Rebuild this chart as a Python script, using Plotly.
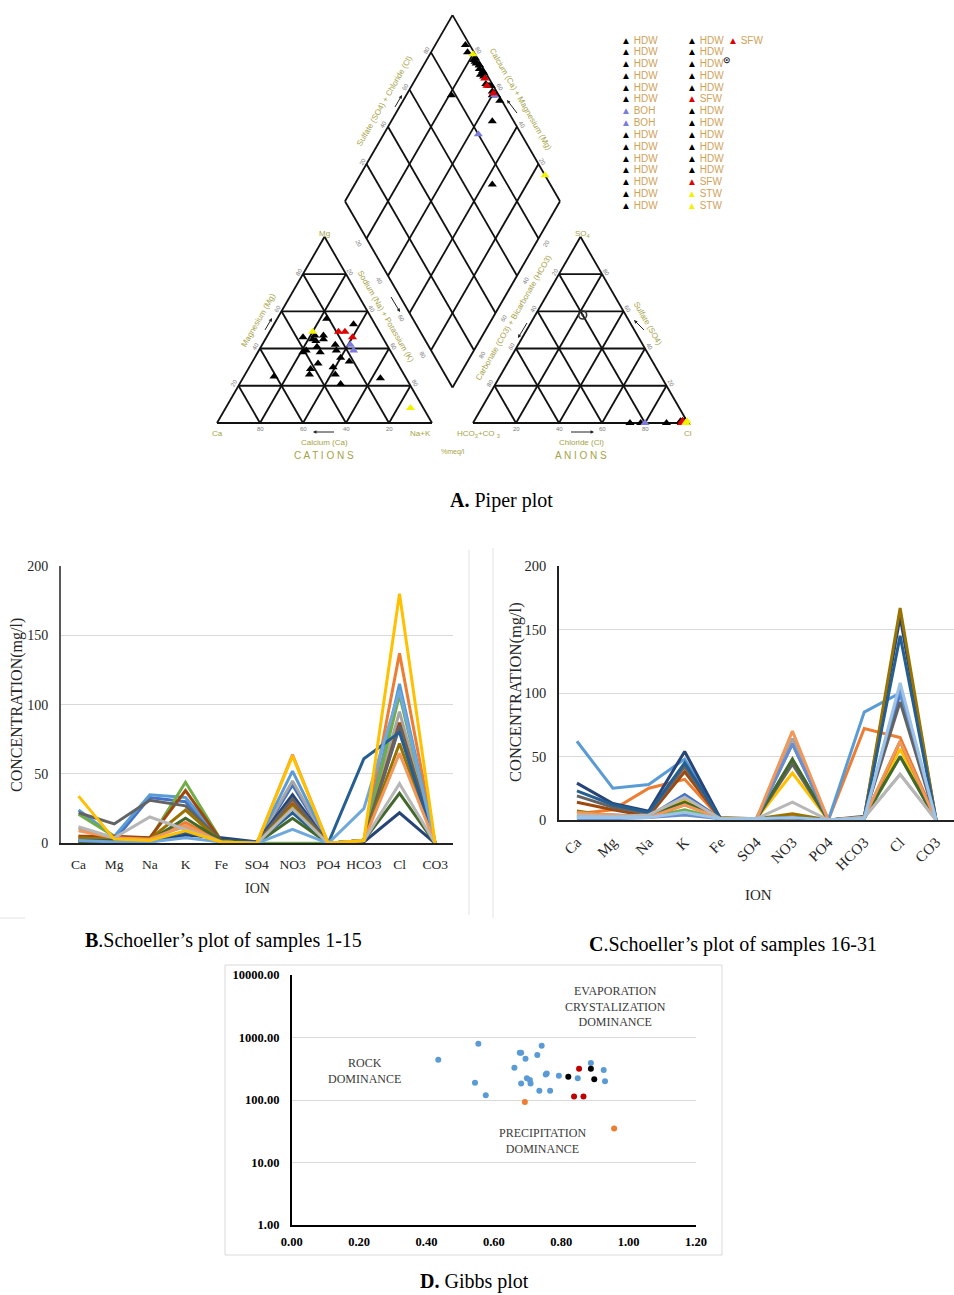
import math
import plotly.graph_objects as go

W, H = 954, 1295

# ======================= DATA =======================
# ---- A. Piper plot: 31 samples in legend order ----
sample_type = (['HDW'] * 6 + ['BOH'] * 2 + ['HDW'] * 7 +
               ['HDW'] * 5 + ['SFW'] + ['HDW'] * 6 + ['SFW', 'STW', 'STW', 'SFW'])
# cations (% meq/l)
cat_Ca = [21, 10, 37, 31, 27, 32, 17, 17, 33, 28, 24, 41, 25, 22, 37,
          42, 44, 31, 32, 61, 19, 32, 12, 33, 39, 25, 33, 16, 31, 6, 14]
cat_Mg = [56, 53, 46, 47, 47, 44, 42, 39, 41, 45, 42, 38, 39, 33, 32,
          29, 26, 30, 26, 25, 49, 21, 24, 45, 39, 35, 38, 49, 49, 8, 46]
cat_NaK = [23, 37, 17, 22, 26, 24, 41, 44, 26, 27, 34, 21, 36, 45, 31,
           29, 30, 39, 42, 14, 32, 47, 64, 22, 22, 40, 29, 35, 20, 86, 40]
# anions (% meq/l)
an_HCO3 = [2, 1, 3, 2, 1, 2, 2, 20, 1, 2, 3, 22, 2, 1, 2,
           3, 1, 2, 1, 2, 2, 10, 27, 1, 2, 3, 1, 3, 1, 0, 2]
an_SO4 = [1, 0, 1, 0, 1, 0, 0, 0, 1, 0, 0, 0, 1, 0, 1,
          0, 1, 0, 0, 1, 1, 0, 0, 1, 0, 0, 1, 0, 0, 1, 1]
an_Cl = [97, 99, 96, 98, 98, 98, 98, 80, 98, 98, 97, 78, 97, 99, 97,
         97, 98, 98, 99, 97, 97, 90, 73, 98, 98, 97, 98, 97, 99, 99, 97]
# extra circle symbol (anion triangle)
circle_HCO3 = [20]
circle_SO4 = [58]
circle_Cl = [22]
piper_ticks = [20, 40, 60, 80]

# ---- B / C. Schoeller plots (mg/l) ----
ions = ['Ca', 'Mg', 'Na', 'K', 'Fe', 'SO4', 'NO3', 'PO4', 'HCO3', 'Cl', 'CO3']
schoeller_B = [  # samples 1-15
    [3, 2, 33, 30, 2, 0, 42, 0, 2, 84, 0],
    [5, 4, 3, 15, 1, 0, 30, 0, 2, 137, 0],
    [11, 4, 4, 12, 1, 0, 45, 0, 2, 95, 0],
    [24, 5, 35, 33, 2, 0, 52, 0, 2, 115, 0],
    [21, 5, 3, 44, 2, 0, 0, 0, 2, 107, 0],
    [1, 1, 1, 6, 4, 1, 35, 0, 1, 22, 0],
    [5, 5, 4, 38, 2, 0, 28, 0, 2, 87, 0],
    [22, 14, 31, 27, 2, 0, 32, 0, 2, 85, 0],
    [4, 3, 3, 24, 1, 0, 27, 0, 2, 72, 0],
    [2, 2, 2, 8, 2, 1, 22, 0, 61, 80, 0],
    [1, 2, 2, 18, 2, 0, 18, 0, 2, 36, 0],
    [2, 1, 1, 4, 1, 0, 10, 0, 25, 110, 0],
    [9, 4, 3, 13, 1, 0, 64, 0, 2, 65, 0],
    [12, 4, 19, 10, 1, 0, 25, 0, 2, 43, 0],
    [34, 3, 2, 9, 1, 0, 63, 0, 2, 180, 0],
]
schoeller_C = [  # samples 16-31
    [4, 4, 3, 20, 1, 1, 60, 0, 2, 100, 0],
    [5, 8, 25, 32, 1, 1, 3, 0, 72, 65, 0],
    [3, 3, 3, 17, 1, 1, 64, 0, 2, 36, 0],
    [2, 2, 2, 15, 1, 1, 37, 0, 2, 56, 0],
    [62, 25, 28, 48, 1, 1, 2, 0, 85, 100, 0],
    [2, 2, 2, 8, 1, 1, 2, 0, 1, 50, 0],
    [29, 13, 7, 54, 1, 1, 2, 0, 2, 160, 0],
    [14, 8, 3, 38, 1, 1, 2, 0, 1, 62, 0],
    [19, 10, 5, 42, 1, 1, 44, 0, 3, 93, 0],
    [7, 3, 2, 12, 2, 1, 5, 0, 2, 167, 0],
    [23, 12, 6, 45, 1, 1, 2, 0, 2, 145, 0],
    [3, 3, 3, 14, 1, 1, 48, 0, 2, 50, 0],
    [1, 1, 2, 4, 1, 1, 60, 0, 2, 105, 0],
    [6, 4, 2, 12, 1, 1, 70, 0, 2, 62, 0],
    [4, 3, 4, 18, 1, 1, 14, 0, 2, 36, 0],
    [2, 2, 2, 6, 1, 1, 2, 0, 1, 108, 0],
]
schoeller_ticks = [0, 50, 100, 150, 200]

# ---- D. Gibbs plot: Na/(Na+Ca) vs TDS ----
gibbs_blue_x = [0.435, 0.554, 0.544, 0.576, 0.677, 0.681, 0.694, 0.661, 0.742, 0.729, 0.698, 0.707,
                0.709, 0.681, 0.754, 0.757, 0.735, 0.767, 0.793, 0.849, 0.888, 0.926, 0.930]
gibbs_blue_y = [442, 797, 189, 119, 572, 572, 459, 329, 740, 525, 222, 209,
                183, 183, 257, 265, 141, 141, 245, 222, 391, 302, 199]
gibbs_orange_x = [0.692, 0.957]
gibbs_orange_y = [93, 35]
gibbs_red_x = [0.853, 0.838, 0.866]
gibbs_red_y = [317, 114, 114]
gibbs_black_x = [0.821, 0.888, 0.898]
gibbs_black_y = [236, 317, 214]
gibbs_xticks = [0.0, 0.2, 0.4, 0.6, 0.8, 1.0, 1.2]
gibbs_yticks = [1, 10, 100, 1000, 10000]

# ======================= STYLE / HELPERS =======================
def X(px):
    return px / W


def Y(py):
    return 1 - py / H


SERIF = 'Liberation Serif'
SANS = 'Liberation Sans'
OLIVE = '#a6a247'
TAN = '#cfa25a'
type_color = {'HDW': '#000000', 'BOH': '#7b7bdb', 'SFW': '#e00000', 'STW': '#f2f200'}
B_colors = ['#4472C4', '#ED7D31', '#A5A5A5', '#5B9BD5', '#70AD47', '#264478', '#9E480E',
            '#636363', '#997300', '#255E91', '#43682B', '#6FA8DC', '#F1975A', '#B7B7B7', '#FFC000']
C_colors = ['#4472C4', '#ED7D31', '#A5A5A5', '#FFC000', '#5B9BD5', '#70AD47', '#264478', '#9E480E',
            '#636363', '#997300', '#255E91', '#43682B', '#698ED0', '#F1975A', '#B7B7B7', '#9DC3E6']

fig = go.Figure()

# ---------------- Piper geometry ----------------
h = math.sqrt(3) / 2
G = 41 / 215          # gap between triangles
OX = 1 + G            # anion triangle offset
P0X, P0Y, PS = 217, 423, 215   # pixel origin and scale of the piper frame


def cation_xy(mg, nak):
    m, n = mg / 100, nak / 100
    return n + 0.5 * m, h * m


def anion_xy(so4, cl):
    so, c = so4 / 100, cl / 100
    return OX + c + 0.5 * so, h * so


def diamond_xy(nak, hco3):
    s = 2 + G - hco3 / 100 - nak / 100
    return nak / 100 + 0.5 * s, h * s


gx, gy = [], []


def seg(p, q):
    gx.extend([p[0], q[0], None])
    gy.extend([p[1], q[1], None])


for ox in (0, OX):
    seg((ox, 0), (ox + 1, 0))
    seg((ox + 1, 0), (ox + 0.5, h))
    seg((ox + 0.5, h), (ox, 0))
    for t in piper_ticks:
        k = t / 100
        seg((ox + k / 2, k * h), (ox + 1 - k / 2, k * h))
        seg((ox + k, 0), (ox + k + (1 - k) / 2, (1 - k) * h))
        seg((ox + k, 0), (ox + k / 2, k * h))

D0 = (1 + G / 2, G * h)
DL = (0.5 + G / 2, (1 + G) * h)
DR = (1.5 + G / 2, (1 + G) * h)
DT = (1 + G / 2, (2 + G) * h)
seg(D0, DL); seg(DL, DT); seg(DT, DR); seg(DR, D0)
for t in piper_ticks:
    k = t / 100
    u = (0.5 * k, h * k)
    v = (-0.5 * k, h * k)
    seg((D0[0] + u[0], D0[1] + u[1]), (DL[0] + u[0], DL[1] + u[1]))
    seg((D0[0] + v[0], D0[1] + v[1]), (DR[0] + v[0], DR[1] + v[1]))

fig.add_trace(go.Scatter(x=gx, y=gy, mode='lines', line=dict(color='#111111', width=1.8),
                         hoverinfo='skip', showlegend=False, xaxis='x', yaxis='y'))

for typ in ['HDW', 'BOH', 'SFW', 'STW']:
    px_, py_ = [], []
    for i, t in enumerate(sample_type):
        if t != typ:
            continue
        for (a, b) in (cation_xy(cat_Mg[i], cat_NaK[i]),
                       anion_xy(an_SO4[i], an_Cl[i]),
                       diamond_xy(cat_NaK[i], an_HCO3[i])):
            px_.append(a)
            py_.append(b)
    fig.add_trace(go.Scatter(x=px_, y=py_, mode='markers', name=typ, showlegend=False,
                             marker=dict(symbol='triangle-up', size=8, color=type_color[typ],
                                         line=dict(width=0)),
                             xaxis='x', yaxis='y'))

cx, cy = zip(*[anion_xy(s, c) for s, c in zip(circle_SO4, circle_Cl)])
fig.add_trace(go.Scatter(x=list(cx), y=list(cy), mode='markers', showlegend=False,
                         marker=dict(symbol='circle-open-dot', size=8, color='#333333',
                                     line=dict(width=1.6, color='#333333')),
                         xaxis='x', yaxis='y'))

ann = []


def ptxt(ux, uy, text, size=6, color='#7a7a7a', angle=0, family=SANS):
    ann.append(dict(x=ux, y=uy, xref='x', yref='y', text=text, showarrow=False,
                    textangle=angle, font=dict(family=family, size=size, color=color)))


def pp(px, py):
    return (px - P0X) / PS, (P0Y - py) / PS


# tick numbers of the piper frame
for t in piper_ticks:
    k = t / 100
    off = 0.022
    # cation triangle
    ptxt(1 - k, -0.028, str(t))
    ptxt(k / 2 - h * off, k * h + 0.5 * off, str(t), angle=-60)
    ptxt(k + (1 - k) / 2 + h * off, (1 - k) * h + 0.5 * off, str(t), angle=60)
    # anion triangle
    ptxt(OX + k, -0.028, str(t))
    ptxt(OX + (1 - k) / 2 - h * off, (1 - k) * h + 0.5 * off, str(t), angle=-60)
    ptxt(OX + (1 - k) + k / 2 + h * off, k * h + 0.5 * off, str(t), angle=60)
    # diamond
    ptxt(DL[0] + 0.5 * k - h * off, DL[1] + h * k + 0.5 * off, str(t), angle=-60)
    ptxt(DR[0] - 0.5 * k + h * off, DR[1] + h * k + 0.5 * off, str(t), angle=60)
    o2 = 0.045
    ptxt(DL[0] + 0.5 * k - h * o2, DL[1] - h * k - 0.5 * o2, str(t), angle=60)
    ptxt(DR[0] - 0.5 * k + h * o2, DR[1] - h * k - 0.5 * o2, str(t), angle=-60)

piper_labels = [
    ('Mg', 324, 233, 8, 0), ('Ca', 217, 433, 8, 0), ('Na+K', 420, 433, 8, 0),
    ('Calcium (Ca)', 324, 442, 8, 0), ('C A T I O N S', 324, 455, 10, 0),
    ('Magnesium (Mg)', 258, 320, 8, -60), ('Sodium (Na) + Potassium (K)', 386, 316, 8, 60),
    ('SO<sub>4</sub>', 582, 234, 8, 0), ('HCO<sub>3</sub>+CO <sub>3</sub>', 478, 434, 8, 0),
    ('Cl', 688, 433, 8, 0), ('Chloride (Cl)', 581, 442, 8, 0), ('A N I O N S', 581, 455, 10, 0),
    ('%meq/l', 453, 452, 7, 0), ('Sulfate (SO4)', 648, 323, 8, 60),
    ('Carbonate (CO3) + Bicarbonate (HCO3)', 513, 318, 8, -60),
    ('Sulfate (SO4) + Chloride (Cl)', 384, 101, 8, -60),
    ('Calcium (Ca) + Magnesium (Mg)', 521, 99, 8, 60),
]
for text, px, py, sz, ang in piper_labels:
    ux, uy = pp(px, py)
    ptxt(ux, uy, text, size=sz, color=OLIVE, angle=ang)

# small direction arrows
for hx, hy, ax_, ay_ in [(272, 318, -10, 17), (400, 312, -12, -20), (313, 432, 24, 0),
                         (594, 432, -26, 0), (634, 320, 13, 13), (518, 338, 12, -20),
                         (402, 95, -10, 17), (507, 100, 13, 17)]:
    ux, uy = pp(hx, hy)
    ann.append(dict(x=ux, y=uy, xref='x', yref='y', ax=ax_, ay=ay_, text=' ', showarrow=True,
                    arrowhead=2, arrowsize=0.7, arrowwidth=1, arrowcolor='#222222'))

# piper legend (two columns)
for col, (start, x0) in enumerate([(0, 619), (15, 685)]):
    for r in range(15):
        t = sample_type[start + r]
        ann.append(dict(x=X(x0), y=Y(40 + r * 11.8), xref='paper', yref='paper',
                        xanchor='left', yanchor='middle', showarrow=False,
                        text=f"<span style='color:{type_color[t]}'>▲</span> "
                             f"<span style='color:{TAN}'>{t}</span>",
                        font=dict(family=SANS, size=10)))
t = sample_type[30]
ann.append(dict(x=X(726), y=Y(40), xref='paper', yref='paper', xanchor='left', yanchor='middle',
                showarrow=False, font=dict(family=SANS, size=10),
                text=f"<span style='color:{type_color[t]}'>▲</span> "
                     f"<span style='color:{TAN}'>{t}</span>"))
ann.append(dict(x=X(733), y=Y(52.5), xref='paper', yref='paper', showarrow=False,
                text='<b>⊙</b>', font=dict(family='DejaVu Sans', size=9, color='#222222')))

# ---------------- Schoeller plots ----------------
for row, colr in zip(schoeller_B, B_colors):
    fig.add_trace(go.Scatter(x=ions, y=row, mode='lines', line=dict(color=colr, width=3),
                             showlegend=False, xaxis='x2', yaxis='y2'))
for row, colr in zip(schoeller_C, C_colors):
    fig.add_trace(go.Scatter(x=ions, y=row, mode='lines', line=dict(color=colr, width=3),
                             showlegend=False, xaxis='x3', yaxis='y3'))

# ---------------- Gibbs plot ----------------
for gxs, gys, colr in [(gibbs_blue_x, gibbs_blue_y, '#5B9BD5'),
                       (gibbs_orange_x, gibbs_orange_y, '#ED7D31'),
                       (gibbs_red_x, gibbs_red_y, '#C00000'),
                       (gibbs_black_x, gibbs_black_y, '#000000')]:
    fig.add_trace(go.Scatter(x=gxs, y=gys, mode='markers', showlegend=False,
                             marker=dict(size=6, color=colr), xaxis='x4', yaxis='y4'))

# ---------------- Text annotations ----------------
def ptext(px, py, text, size, family=SERIF, color='#000000', angle=0, xanchor='center'):
    ann.append(dict(x=X(px), y=Y(py), xref='paper', yref='paper', text=text, showarrow=False,
                    textangle=angle, xanchor=xanchor, yanchor='middle',
                    font=dict(family=family, size=size, color=color)))


ptext(502, 500, '<b>A.</b> Piper plot', 20)
ptext(83, 940, '<b>B</b>.Schoeller’s plot of samples 1-15', 20, xanchor='left')
ptext(587, 944, '<b>C</b>.Schoeller’s plot of samples 16-31', 20, xanchor='left')
ptext(474, 1281, '<b>D.</b> Gibbs plot', 20)

ptext(17, 705, 'CONCENTRATION(mg/l)', 16, color='#262626', angle=-90)
ptext(257, 888, 'ION', 14, color='#262626')
ptext(515, 692, 'CONCENTRATION(mg/l)', 16.5, color='#262626', angle=-90)
ptext(758, 895, 'ION', 15, color='#262626')

ptext(615, 1007, 'EVAPORATION<br>CRYSTALIZATION<br>DOMINANCE', 12, color='#3a3a3a')
ptext(364, 1071, 'ROCK<br>DOMINANCE', 12, color='#3a3a3a')
ptext(542, 1141, 'PRECIPITATION<br>DOMINANCE', 12, color='#3a3a3a')

# ---------------- Frames ----------------
shapes = [
    dict(type='rect', xref='paper', yref='paper', x0=X(225), x1=X(722), y0=Y(1255), y1=Y(965),
         line=dict(color='#d9d9d9', width=1)),
    dict(type='line', xref='paper', yref='paper', x0=X(469), x1=X(469), y0=Y(915), y1=Y(550),
         line=dict(color='#e3e3e3', width=1)),
    dict(type='line', xref='paper', yref='paper', x0=X(493), x1=X(493), y0=Y(918), y1=Y(548),
         line=dict(color='#e3e3e3', width=1)),
    dict(type='line', xref='paper', yref='paper', x0=X(0), x1=X(25), y0=Y(918), y1=Y(918),
         line=dict(color='#e3e3e3', width=1)),
]

tick_serif = dict(family=SERIF, size=14, color='#262626')
clear = 'rgba(0,0,0,0)'
fig.update_layout(
    template='none',
    width=W, height=H, autosize=False,
    margin=dict(l=0, r=0, t=0, b=0, pad=0, autoexpand=False),
    paper_bgcolor='white', plot_bgcolor='white',
    showlegend=False,
    annotations=ann, shapes=shapes,
    xaxis=dict(domain=[0, 1], range=[-P0X / PS, (W - P0X) / PS], visible=False, fixedrange=True),
    yaxis=dict(domain=[1 - 480 / H, 1], range=[(P0Y - 480) / PS, P0Y / PS], visible=False,
               fixedrange=True),
    xaxis2=dict(domain=[X(60.7), X(453)], anchor='y2', type='category', categoryorder='array',
                categoryarray=ions, range=[-0.5, 10.5], showgrid=False, showline=True,
                linecolor='#222222', linewidth=1.5, ticks='outside', ticklen=8, tickcolor=clear,
                automargin=False,
                tickfont=dict(family=SERIF, size=13.5, color='#262626')),
    yaxis2=dict(domain=[Y(843.3), Y(566)], anchor='x2', range=[0, 200], tickvals=schoeller_ticks,
                showgrid=True, gridcolor='#d9d9d9', gridwidth=1.3, zeroline=False, showline=True,
                linecolor='#595959', linewidth=1.5, ticks='outside', ticklen=8, tickcolor=clear,
                automargin=False, tickfont=tick_serif),
    xaxis3=dict(domain=[X(559), 1.0], anchor='y3', type='category', categoryorder='array',
                categoryarray=ions, range=[-0.5, 10.5], showgrid=False, showline=True,
                linecolor='#222222', linewidth=1.5, ticks='outside', ticklen=6, tickcolor=clear,
                tickangle=-45, automargin=False,
                tickfont=dict(family=SERIF, size=15, color='#262626')),
    yaxis3=dict(domain=[Y(820), Y(566)], anchor='x3', range=[0, 200], tickvals=schoeller_ticks,
                showgrid=True, gridcolor='#d9d9d9', gridwidth=1.3, zeroline=False, showline=True,
                linecolor='#222222', linewidth=1.5, ticks='outside', ticklen=8, tickcolor=clear,
                automargin=False, tickfont=dict(family=SERIF, size=14.5, color='#262626')),
    xaxis4=dict(domain=[X(291.7), X(696)], anchor='y4', range=[0, 1.2], tickvals=gibbs_xticks,
                ticktext=[f'<b>{v:.2f}</b>' for v in gibbs_xticks], showgrid=False, zeroline=False,
                showline=True, linecolor='#000000', linewidth=1.5, ticks='outside', ticklen=4,
                tickcolor=clear, automargin=False,
                tickfont=dict(family=SERIF, size=12.5, color='#000000')),
    yaxis4=dict(domain=[Y(1225), Y(975)], anchor='x4', type='log', range=[0, 4],
                tickvals=gibbs_yticks, ticktext=[f'<b>{v:.2f}</b>' for v in gibbs_yticks],
                showgrid=True, gridcolor='#d9d9d9', gridwidth=1.3, zeroline=False, showline=True,
                linecolor='#000000', linewidth=1.5, ticks='outside', ticklen=8, tickcolor=clear,
                automargin=False, tickfont=dict(family=SERIF, size=12.5, color='#000000')),
)

fig.write_html('out.html', config={'displayModeBar': False},
               post_script="document.body.style.margin='0';document.body.style.overflow='hidden';")
